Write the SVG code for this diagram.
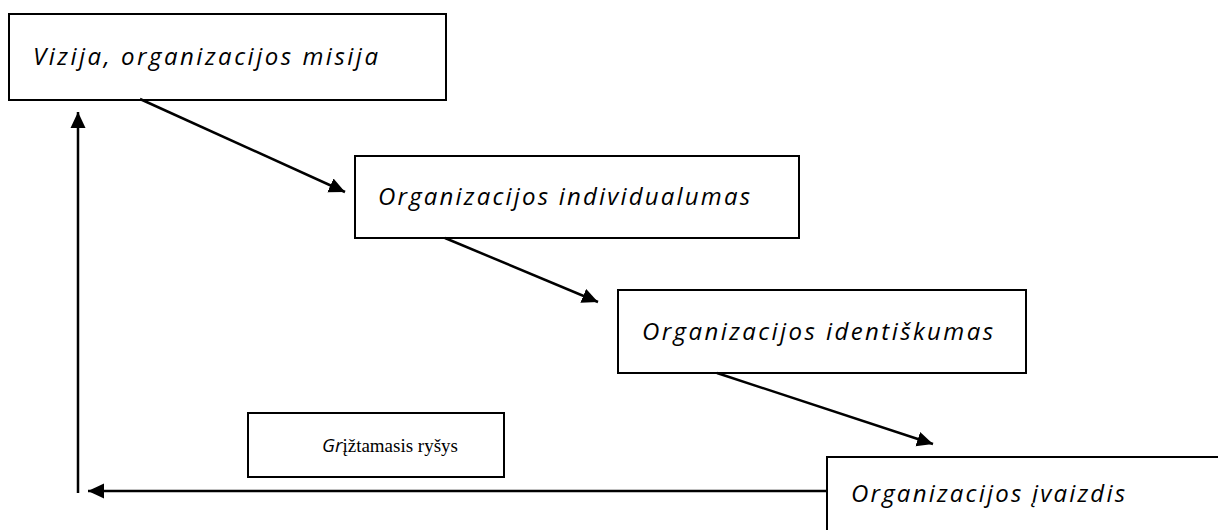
<svg xmlns="http://www.w3.org/2000/svg" width="1218" height="530" viewBox="0 0 1218 530">
<style>
.box{fill:#fff;stroke:#000;stroke-width:2}
.hand{font-family:"Open Sans","Lato",sans-serif;font-style:italic;font-size:24px;fill:#000}
.serif{font-family:"Liberation Serif",serif;font-size:19px;fill:#000}
.conn{stroke:#000;stroke-width:2.5;fill:none;marker-end:url(#ah)}
</style>
<defs>
<marker id="ah" markerUnits="userSpaceOnUse" markerWidth="17" markerHeight="16" viewBox="0 0 17 16" refX="16" refY="8" orient="auto">
<path d="M0,0.5 L16,8 L0,15.5 Z" fill="#000"/>
</marker>
</defs>
<rect width="1218" height="530" fill="#fff"/>
<g id="node-vizija">
<rect class="box" x="9" y="14" width="437" height="86"/>
<text class="hand" x="33" y="65" textLength="345" lengthAdjust="spacing">Vizija, organizacijos misija</text>
</g>
<g id="node-individualumas">
<rect class="box" x="355" y="156" width="444" height="82"/>
<text class="hand" x="378" y="205" textLength="372" lengthAdjust="spacing">Organizacijos individualumas</text>
</g>
<g id="node-identiskumas">
<rect class="box" x="618" y="290" width="408" height="83"/>
<text class="hand" x="642" y="340" textLength="351" lengthAdjust="spacing">Organizacijos identiškumas</text>
</g>
<g id="node-ivaizdis">
<rect class="box" x="827" y="457" width="420" height="90"/>
<text class="hand" x="851" y="502" textLength="274" lengthAdjust="spacing">Organizacijos įvaizdis</text>
</g>
<g id="node-grizt">
<rect class="box" x="248" y="413" width="256" height="64"/>
<text x="322" y="452"><tspan class="hand" style="font-size:19px">Gr</tspan><tspan class="serif">įžtamasis ryšys</tspan></text>
</g>
<g id="connectors">
<line class="conn" x1="140" y1="99" x2="345" y2="192"/>
<line class="conn" x1="445" y1="238" x2="598" y2="302"/>
<line class="conn" x1="717" y1="373" x2="933" y2="444"/>
<line class="conn" x1="827" y1="491" x2="88" y2="491"/>
<line class="conn" x1="78" y1="493" x2="78" y2="112"/>
</g>
</svg>
